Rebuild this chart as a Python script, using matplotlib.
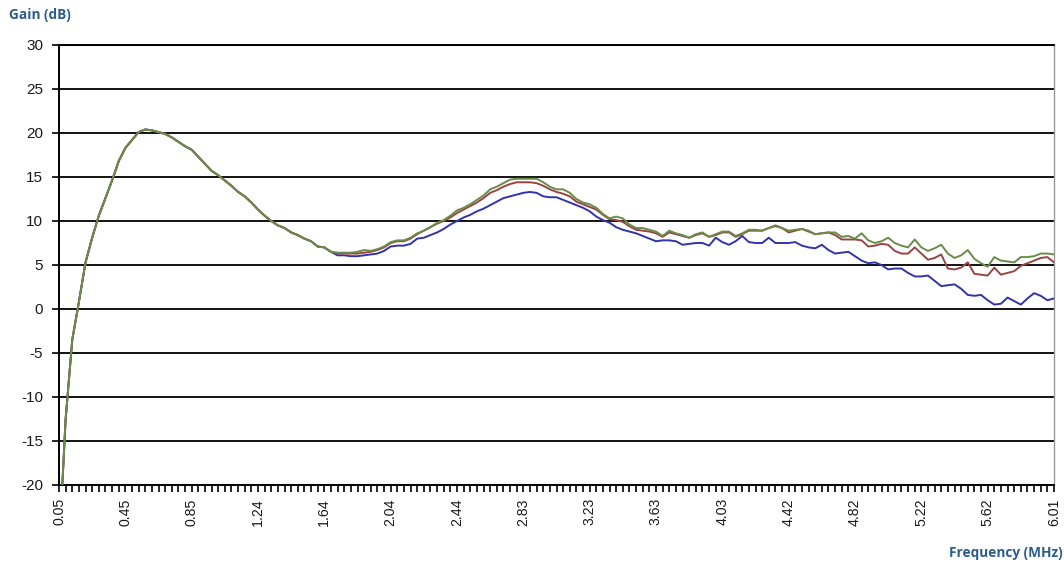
import matplotlib
matplotlib.use("Agg")
import matplotlib.pyplot as plt
from matplotlib.ticker import FixedLocator, NullFormatter

# ---- data ----
freq_tick_labels = ["0.05", "0.45", "0.85", "1.24", "1.64", "2.04", "2.44", "2.83",
                    "3.23", "3.63", "4.03", "4.42", "4.82", "5.22", "5.62", "6.01"]

# first 42 sweep points: the three traces coincide
shared_start = [-27.5, -12.5, -3.5, 0.8, 5.3, 8.1, 10.6, 12.6, 14.6, 16.8,
                18.3, 19.2, 20.1, 20.4, 20.3, 20.1, 19.9, 19.5, 19.0, 18.5,
                18.1, 17.3, 16.5, 15.7, 15.2, 14.6, 14.0, 13.3, 12.8, 12.1,
                11.3, 10.6, 10.0, 9.5, 9.2, 8.7, 8.4, 8.0, 7.7, 7.1,
                7.0, 6.5]

gain_green = shared_start + [
    6.4, 6.4, 6.4, 6.5, 6.7, 6.6, 6.8, 7.1, 7.6, 7.8,
    7.8, 8.1, 8.6, 8.9, 9.3, 9.8, 10.1, 10.6, 11.2, 11.5,
    11.9, 12.4, 12.9, 13.6, 13.9, 14.3, 14.7, 14.8, 14.8, 14.8,
    14.8, 14.4, 13.9, 13.6, 13.6, 13.2, 12.5, 12.1, 11.9, 11.5,
    10.8, 10.3, 10.5, 10.3, 9.6, 9.2, 9.2, 9.0, 8.8, 8.3,
    8.9, 8.6, 8.4, 8.1, 8.5, 8.7, 8.2, 8.5, 8.8, 8.8,
    8.3, 8.6, 9.0, 9.0, 8.9, 9.2, 9.4, 9.2, 8.9, 9.0,
    9.1, 8.9, 8.5, 8.6, 8.7,
    8.7, 8.2, 8.3, 8.0, 8.6, 7.8, 7.5, 7.7, 8.1, 7.5,
    7.2, 7.0, 7.9, 7.0, 6.6, 6.9, 7.3, 6.3, 5.8, 6.1,
    6.7, 5.7, 5.2, 4.8, 5.9, 5.5, 5.4, 5.3, 5.9, 5.9,
    6.0, 6.3, 6.3, 6.2]

gain_red = shared_start + [
    6.3, 6.3, 6.3, 6.3, 6.4, 6.5, 6.7, 7.0, 7.5, 7.7,
    7.7, 8.0, 8.5, 8.9, 9.3, 9.7, 10.0, 10.4, 10.9, 11.3,
    11.7, 12.1, 12.6, 13.2, 13.5, 13.9, 14.2, 14.4, 14.4, 14.4,
    14.3, 14.0, 13.6, 13.3, 13.1, 12.8, 12.2, 11.9, 11.6, 11.3,
    10.7, 10.2, 10.1, 9.9, 9.4, 9.0, 8.9, 8.8, 8.6, 8.2,
    8.7, 8.5, 8.3, 8.1, 8.4, 8.6, 8.2, 8.4, 8.7, 8.7,
    8.2, 8.5, 8.9, 8.9, 8.9, 9.2, 9.5, 9.2, 8.7, 8.9,
    9.1, 8.8, 8.5, 8.6, 8.7,
    8.4, 7.9, 7.9, 7.9, 7.8, 7.1, 7.2, 7.4, 7.3, 6.6,
    6.3, 6.3, 7.0, 6.3, 5.6, 5.8, 6.2, 4.6, 4.5, 4.7,
    5.3, 4.0, 3.9, 3.8, 4.7, 3.9, 4.1, 4.3, 4.9, 5.2,
    5.5, 5.8, 5.9, 5.3]

gain_blue = shared_start + [
    6.1, 6.1, 6.0, 6.0, 6.1, 6.2, 6.3, 6.6, 7.1, 7.2,
    7.2, 7.4, 8.0, 8.1, 8.4, 8.7, 9.1, 9.6, 10.0, 10.4,
    10.7, 11.1, 11.4, 11.8, 12.2, 12.6, 12.8, 13.0, 13.2, 13.3,
    13.2, 12.8, 12.7, 12.7, 12.4, 12.1, 11.8, 11.5, 11.1, 10.5,
    10.1, 9.8, 9.3, 9.0, 8.8, 8.6, 8.3, 8.0, 7.7, 7.8,
    7.8, 7.7, 7.3, 7.4, 7.5, 7.5, 7.2, 8.1, 7.6, 7.3,
    7.7, 8.3, 7.6, 7.5, 7.5, 8.1, 7.5, 7.5, 7.5, 7.6,
    7.2, 7.0, 6.9, 7.3, 6.7,
    6.3, 6.4, 6.5, 6.0, 5.5, 5.2, 5.3, 5.0, 4.5, 4.6,
    4.6, 4.1, 3.7, 3.7, 3.8, 3.2, 2.6, 2.7, 2.8, 2.3,
    1.6, 1.5, 1.6, 1.0, 0.5, 0.6, 1.3, 0.9, 0.5, 1.2,
    1.8, 1.5, 1.0, 1.2]

y_ticks = [-20, -15, -10, -5, 0, 5, 10, 15, 20, 25, 30]

# ---- figure ----
W, H = 1064, 562
fig = plt.figure(figsize=(W / 100, H / 100), dpi=100)
ax = fig.add_axes([59 / W, 77 / H, (1054 - 59) / W, 440 / H])

n = len(gain_blue)
idx = list(range(n))
ax.plot(idx, gain_blue, color="#3333aa", lw=1.4, zorder=3)
ax.plot(idx, gain_red, color="#994444", lw=1.4, zorder=4)
ax.plot(idx, gain_green, color="#6b8c48", lw=1.4, zorder=5)

ax.set_xlim(0, n - 1)
ax.set_ylim(-20, 30)

# y axis
ax.set_yticks(y_ticks)
ax.set_yticklabels([str(v) for v in y_ticks], fontsize=11,
                   fontfamily="Liberation Sans", color="#1a1a1a")
ax.tick_params(axis="y", direction="out", length=5, width=1.2, pad=6.5,
               color="black")
ax.yaxis.grid(True, color="black", lw=1.3, zorder=1)

# x axis: category ticks at every point, labels every 10th point
ax.xaxis.set_major_locator(FixedLocator(idx[::10]))
ax.set_xticklabels(freq_tick_labels, rotation=90, fontsize=10.2,
                   fontfamily="Liberation Sans", color="#1a1a1a")
ax.xaxis.set_minor_locator(FixedLocator(idx))
ax.xaxis.set_minor_formatter(NullFormatter())
ax.tick_params(axis="x", which="both", direction="out", length=5,
               width=1.2, pad=4.5, color="black")

for side in ("left", "bottom", "top"):
    ax.spines[side].set_color("black")
    ax.spines[side].set_linewidth(1.4)
ax.spines["right"].set_color("#999999")
ax.spines["right"].set_linewidth(1.0)
ax.set_axisbelow(True)

title_color = "#2b5d8c"
fig.text(9 / W, 1 - 15 / H, "Gain (dB)", ha="left", va="center",
         fontsize=9.8, fontweight="bold", color=title_color,
         fontfamily="Open Sans")
fig.text(1063 / W, 1 - 553 / H, "Frequency (MHz)", ha="right", va="center",
         fontsize=9.8, fontweight="bold", color=title_color,
         fontfamily="Open Sans")

fig.savefig("out.png", dpi=100)
